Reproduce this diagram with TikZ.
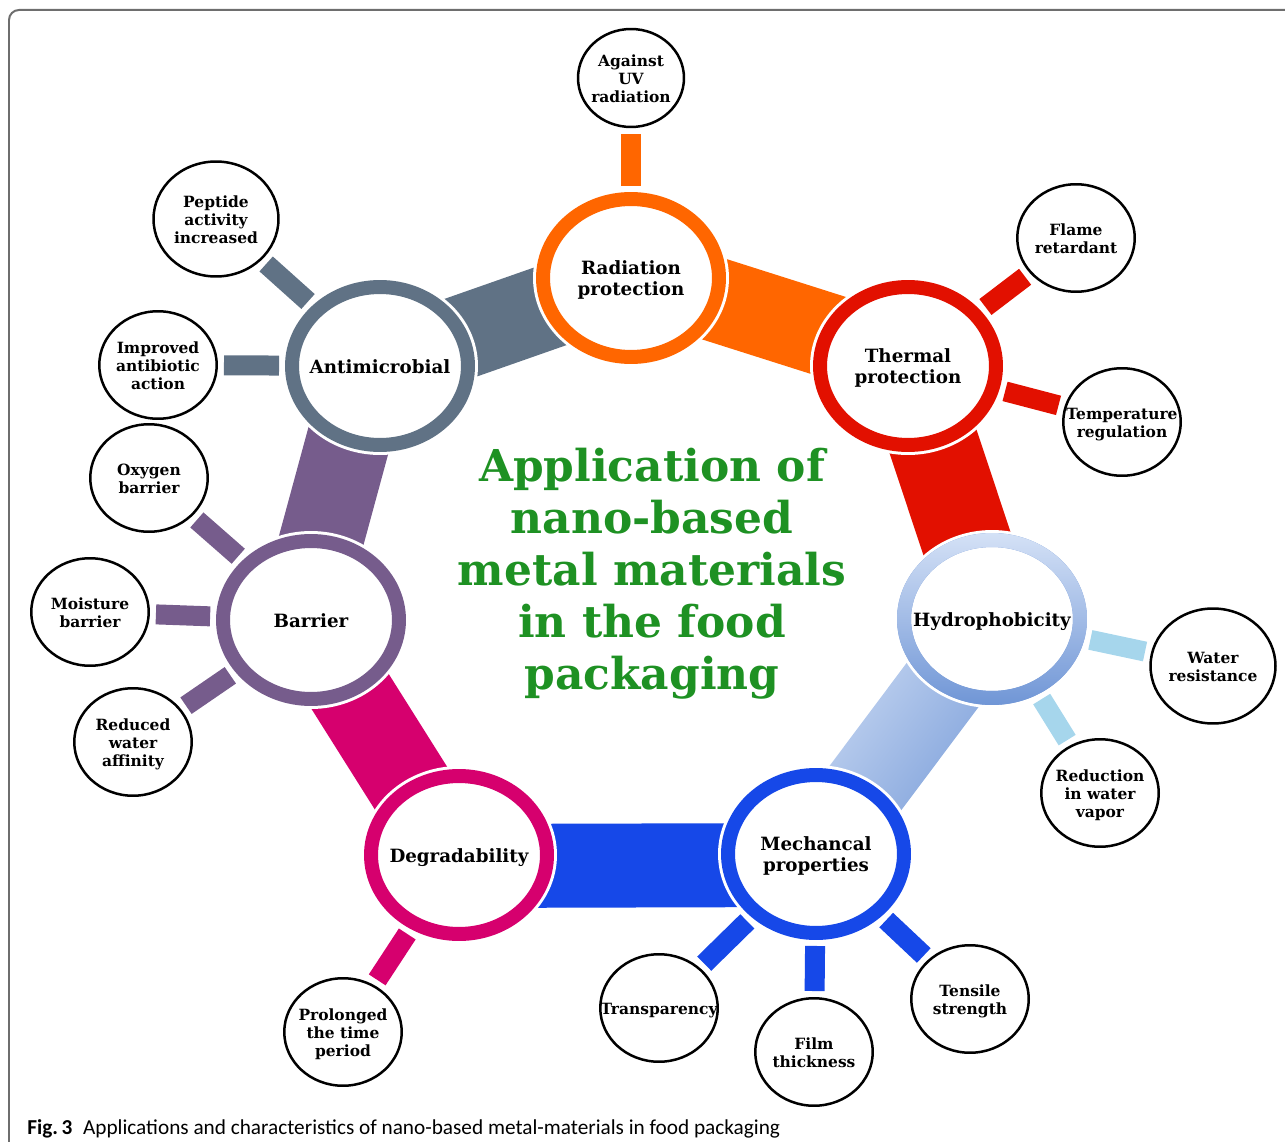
\documentclass[tikz,border=0pt]{standalone}
\usepackage{fontspec}
\newfontfamily\capfont{Carlito}
\newfontfamily\lblfont{DejaVu Serif}
\usetikzlibrary{shapes.geometric,backgrounds,calc}

\definecolor{radorange}{RGB}{255,102,0}
\definecolor{thermred}{RGB}{226,16,0}
\definecolor{hydrotop}{RGB}{212,225,246}
\definecolor{hydrobot}{RGB}{112,150,214}
\definecolor{hydrospoke}{RGB}{166,214,236}
\definecolor{mechblue}{RGB}{22,72,232}
\definecolor{degmag}{RGB}{214,0,110}
\definecolor{barpurple}{RGB}{118,92,140}
\definecolor{antigray}{RGB}{96,114,133}
\definecolor{titlegreen}{RGB}{30,145,35}
\definecolor{framegray}{RGB}{110,110,110}

\newcommand{\ctext}[1]{\makebox[0pt]{\raisebox{-1.7pt}[\height][\depth]{\begin{tabular}{@{}c@{}}#1\end{tabular}}}}

\begin{document}
\begin{tikzpicture}[x=0.02cm,y=-0.02cm,
    hub/.style={ellipse,draw=#1,line width=0.28cm,fill=white,inner sep=0pt,outer sep=0.14cm,
        minimum width=3.52cm,minimum height=3.16cm,preaction={draw=white,line width=0.40cm},
        font=\lblfont\bfseries\fontsize{10.4}{12}\selectfont},
    leaf/.style={ellipse,draw=black,line width=0.05cm,fill=white,inner sep=0pt,
        minimum width=2.35cm,minimum height=2.15cm,font=\lblfont\bfseries\fontsize{8.8}{10.3}\selectfont},
    bigleaf/.style={leaf,minimum width=2.5cm,minimum height=2.3cm},
    spoke/.style={draw=#1,line width=0.4cm,shorten <=0.12cm,shorten >=0.12cm},
    band/.style={draw=#1,line width=1.68cm}]
    \useasboundingbox (0,0) rectangle (1285,1142);
    \draw[framegray,line width=0.04cm,rounded corners=0.2cm] (9,1160) -- (9,10) -- (1300,10);

    % Main ring of properties
    \node[hub=radorange] (rad) at (631,278) {\ctext{Radiation\\protection}};
    \node[hub=thermred] (therm) at (908,366) {\ctext{Thermal\\protection}};
    \node[hub=hydrobot] (hydro) at (992,619) {\ctext{Hydrophobicity}};
    \shade[top color=hydrotop,bottom color=hydrobot,even odd rule]
        (hydro.center) ellipse [x radius=1.9cm,y radius=1.72cm]
        (hydro.center) ellipse [x radius=1.62cm,y radius=1.44cm];
    \node[hub=mechblue] (mech) at (816,854) {\ctext{Mechancal\\properties}};
    \node[hub=degmag] (degr) at (459,855) {\ctext{Degradability}};
    \node[hub=barpurple] (barr) at (311,620) {\ctext{Barrier}};
    \node[hub=antigray] (anti) at (380,366) {\ctext{Antimicrobial}};

    \node[font=\lblfont\bfseries\fontsize{25}{29.5}\selectfont,text=titlegreen] (ttl) at (652,572)
        {\ctext{Application of\\nano-based\\metal materials\\in the food\\packaging}};

    % Outer characteristics
    \node[leaf,minimum width=2.12cm,minimum height=1.96cm] (uv) at (631,78) {\ctext{Against\\UV\\radiation}};
    \node[leaf] (flame) at (1076,238) {\ctext{Flame\\retardant}};
    \node[leaf] (temp) at (1122,422) {\ctext{Temperature\\regulation}};
    \node[bigleaf] (water) at (1213,666) {\ctext{Water\\resistance}};
    \node[leaf] (vapor) at (1100,793) {\ctext{Reduction\\in water\\vapor}};
    \node[leaf] (tensile) at (970,999) {\ctext{Tensile\\strength}};
    \node[leaf] (film) at (814,1052) {\ctext{Film\\thickness}};
    \node[leaf] (transp) at (659,1008) {\ctext{Transparency}};
    \node[leaf] (prolong) at (343,1032) {\ctext{Prolonged\\the time\\period}};
    \node[leaf] (reduced) at (133,742) {\ctext{Reduced\\water\\affinity}};
    \node[leaf] (moist) at (90,612) {\ctext{Moisture\\barrier}};
    \node[leaf] (oxy) at (149,478) {\ctext{Oxygen\\barrier}};
    \node[leaf] (improved) at (158,365) {\ctext{Improved\\antibiotic\\action}};
    \node[bigleaf] (peptide) at (216,219) {\ctext{Peptide\\activity\\increased}};

    \draw[spoke=radorange] (rad) -- (uv);
    \draw[spoke=thermred] (therm) -- (flame);
    \draw[spoke=thermred] (therm) -- (temp);
    \draw[spoke=hydrospoke] (hydro) -- (water);
    \draw[spoke=hydrospoke] (hydro) -- (vapor);
    \draw[spoke=mechblue] (mech) -- (tensile);
    \draw[spoke=mechblue] (mech) -- (film);
    \draw[spoke=mechblue] (mech) -- (transp);
    \draw[spoke=degmag] (degr) -- (prolong);
    \draw[spoke=barpurple] (barr) -- (reduced);
    \draw[spoke=barpurple] (barr) -- (moist);
    \draw[spoke=barpurple] (barr) -- (oxy);
    \draw[spoke=antigray] (anti) -- (improved);
    \draw[spoke=antigray] (anti) -- (peptide);

    \begin{scope}[on background layer]
        \draw[band=radorange] ($(rad.center)!0.1cm!90:(therm.center)$) -- ($(therm.center)!0.1cm!-90:(rad.center)$);
        \draw[band=thermred,line width=1.8cm] (therm.center) -- (hydro.center);
        \shade[top color=hydrotop,bottom color=hydrobot,shading angle=53]
            ($(hydro.center)!0.84cm!90:(mech.center)$) -- ($(hydro.center)!0.84cm!-90:(mech.center)$)
            -- ($(mech.center)!0.84cm!90:(hydro.center)$) -- ($(mech.center)!0.84cm!-90:(hydro.center)$) -- cycle;
        \draw[band=mechblue] ($(mech.center)!0.22cm!90:(degr.center)$) -- ($(degr.center)!0.22cm!-90:(mech.center)$);
        \draw[band=degmag] ($(degr.center)!0.1cm!90:(barr.center)$) -- ($(barr.center)!0.1cm!-90:(degr.center)$);
        \draw[band=barpurple] ($(barr.center)!0.22cm!90:(anti.center)$) -- ($(anti.center)!0.22cm!-90:(barr.center)$);
        \draw[band=antigray] (anti.center) -- (rad.center);
    \end{scope}

    \node[anchor=base west,inner sep=0pt,font=\capfont\fontsize{12.1}{14}\selectfont] (cap) at (27,1134)
        {\textbf{Fig.\,3}\hspace{0.5em}Applications and characteristics of nano-based metal-materials in food packaging};
\end{tikzpicture}
\end{document}
